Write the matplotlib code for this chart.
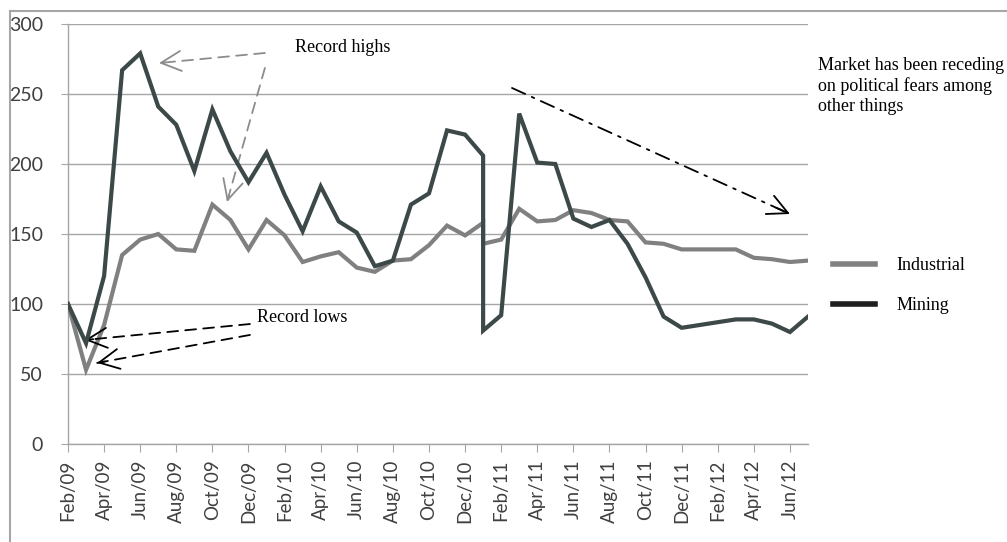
import matplotlib
matplotlib.use("Agg")
import matplotlib.pyplot as plt
from matplotlib.lines import Line2D
import numpy as np

# month index from Feb/09 (0) to Jul/12 (41); Jan/11 appears twice in the data
months = [0, 1, 2, 3, 4, 5, 6, 7, 8, 9, 10, 11, 12, 13, 14, 15, 16, 17, 18, 19, 20,
          21, 22, 23, 23, 24, 25, 26, 27, 28, 29, 30, 31, 32, 33, 34, 35, 36, 37,
          38, 39, 40, 41]

mining = [100, 72, 120, 267, 279, 241, 228, 195, 239, 209, 187, 208, 178, 152, 184,
          159, 151, 127, 131, 171, 179, 224, 221, 206, 81, 92, 236, 201, 200, 161,
          155, 160, 143, 119, 91, 83, 85, 87, 89, 89, 86, 80, 91]

industrial = [100, 53, 85, 135, 146, 150, 139, 138, 171, 160, 139, 160, 149, 130, 134,
              137, 126, 123, 131, 132, 142, 156, 149, 158, 143, 146, 168, 159, 160, 167,
              165, 160, 159, 144, 143, 139, 139, 139, 139, 133, 132, 130, 131]

tick_pos = list(range(0, 41, 2))
tick_labels = ['Feb/09', 'Apr/09', 'Jun/09', 'Aug/09', 'Oct/09', 'Dec/09', 'Feb/10',
               'Apr/10', 'Jun/10', 'Aug/10', 'Oct/10', 'Dec/10', 'Feb/11', 'Apr/11',
               'Jun/11', 'Aug/11', 'Oct/11', 'Dec/11', 'Feb/12', 'Apr/12', 'Jun/12']

mining_col = '#3d4848'
industrial_col = '#808080'
grid_col = '#a6a6a6'
serif = 'Liberation Serif'

fig = plt.figure(figsize=(10.07, 5.42), dpi=100)
ax = fig.add_axes([68/1007, 1-444/542, 740/1007, 420/542])

ax.plot(months, industrial, color=industrial_col, lw=3, solid_joinstyle='miter', zorder=3)
ax.plot(months, mining, color=mining_col, lw=3, solid_joinstyle='miter', zorder=4)

ax.set_xlim(0, 41)
ax.set_ylim(0, 300)
ax.set_yticks(range(0, 301, 50))
ax.set_xticks(tick_pos)
ax.set_xticklabels(tick_labels, rotation=90, family='Lato', fontsize=13.5, color='#404040')
for lab in ax.get_yticklabels():
    lab.set_family('Lato')
    lab.set_fontsize(14)
    lab.set_color('#404040')

ax.grid(axis='y', color=grid_col, lw=1)
ax.set_axisbelow(True)
for s in ['top', 'right']:
    ax.spines[s].set_visible(False)
for s in ['left', 'bottom']:
    ax.spines[s].set_color(grid_col)
    ax.spines[s].set_linewidth(1)
ax.tick_params(axis='y', length=5, color=grid_col, pad=13)
ax.tick_params(axis='x', length=6, color=grid_col, pad=5)


def dashed_arrow(tail, head, color, ls):
    # dashed shaft plus a solid open head
    ax.annotate('', xy=head, xytext=tail,
                arrowprops=dict(arrowstyle='-', color=color, lw=1.3, linestyle=ls,
                                shrinkA=0, shrinkB=0), annotation_clip=False)
    ax.annotate('', xy=head, xytext=(head[0] + (tail[0]-head[0])*0.05,
                                     head[1] + (tail[1]-head[1])*0.05),
                arrowprops=dict(arrowstyle='->,head_length=0.8,head_width=0.4',
                                color=color, lw=1.3, shrinkA=0, shrinkB=0,
                                mutation_scale=18), annotation_clip=False)


# Record highs
ax.text(12.58, 282.9, 'Record highs', family=serif, fontsize=13, va='center', ha='left')
dashed_arrow((10.91, 279.3), (5.04, 272.1), '#8c8c8c', (0, (6, 4)))
dashed_arrow((10.91, 268.6), (8.81, 172.9), '#8c8c8c', (0, (6, 4)))

# Record lows
ax.text(10.47, 90, 'Record lows', family=serif, fontsize=13, va='center', ha='left')
dashed_arrow((10.08, 85.7), (0.94, 74.3), 'black', (0, (6, 4)))
dashed_arrow((10.08, 77.9), (1.61, 57.9), 'black', (0, (6, 4)))

# trend arrow
dashed_arrow((24.6, 254.3), (40.0, 164.3), 'black', (0, (8, 4, 1.5, 4)))

fig.text(818/1007, 1-57/542, 'Market has been receding\non political fears among\nother things',
         family=serif, fontsize=13, va='top', ha='left', linespacing=1.22)

handles = [Line2D([], [], color=industrial_col, lw=4),
           Line2D([], [], color='#1e1e1e', lw=4)]
fig.legend(handles, ['Industrial', 'Mining'], loc='upper left',
           bbox_to_anchor=(817/1007, 1-241/542), frameon=False,
           prop={'family': serif, 'size': 13}, handlelength=2.3,
           handletextpad=1.2, labelspacing=1.25)

# chart frame
fig.add_artist(Line2D([10/1007, 10/1007], [0, 1-11/542], transform=fig.transFigure,
                      color='#a6a6a6', lw=1.5))
fig.add_artist(Line2D([10/1007, 1], [1-11/542, 1-11/542], transform=fig.transFigure,
                      color='#a6a6a6', lw=1.5))

fig.savefig('out.png', dpi=100)
